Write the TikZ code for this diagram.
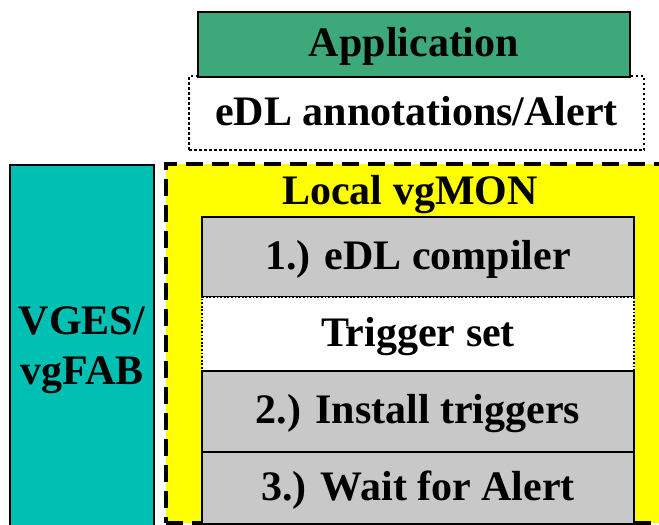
\documentclass[tikz,border=0pt]{standalone}
\usepackage{fontspec}
\setmainfont{Liberation Serif}
\definecolor{appgreen}{HTML}{3DA87A}
\definecolor{fabteal}{HTML}{00BFB3}
\definecolor{stepgrey}{HTML}{C8C8C8}
\definecolor{monyellow}{HTML}{FFFF00}
\begin{document}
\begin{tikzpicture}[x=1pt,y=-1pt,
  bigtext/.style={font=\fontsize{42}{50}\selectfont\bfseries},
  lbl/.style={bigtext, text height=33pt, text depth=9pt, inner sep=0pt},
  solidbox/.style={lbl, draw=black, line width=1.5pt},
  dotbox/.style={lbl, draw=black, line width=2.5pt, dash pattern=on 2.5pt off 2.5pt, fill=white},
  thindotbox/.style={lbl, draw=black, line width=1.6pt, dash pattern=on 1.8pt off 1.8pt, fill=white},
  greybox/.style={solidbox, fill=stepgrey, minimum width=432pt}
]
\useasboundingbox (0,0) rectangle (659,525);
\clip (0,0) rectangle (659,525);

% application layer
\node[dotbox, minimum width=455pt, minimum height=74pt] (annot) at (416.5,113) {eDL annotations/Alert};
\node[solidbox, fill=appgreen, minimum width=432pt, minimum height=65pt] (app) at (414,44.5) {Application};

% VGES / vgFAB column
\node[draw=black, line width=1.5pt, fill=fabteal, bigtext, align=center, inner sep=0pt,
      minimum width=144pt, minimum height=370pt] (vges) at (82,350) {VGES/\\vgFAB};

% local monitor frame
\node[draw=black, line width=4pt, dash pattern=on 17pt off 9pt, fill=monyellow,
      minimum width=554pt, minimum height=359pt, inner sep=0pt] (mon) at (443,343.5) {};
\node[bigtext, anchor=base, inner sep=0pt] (montitle) at (410,204) {Local vgMON};

% monitor steps
\node[greybox, minimum height=80pt] (compiler) at (418,257) {1.) eDL compiler};
\node[thindotbox, minimum width=432pt, minimum height=74pt] (trig) at (418,334) {Trigger set};
\node[greybox, minimum height=81pt] (install) at (418,411.5) {2.) Install triggers};
\node[greybox, minimum height=72pt] (wait) at (418,488) {3.) Wait for Alert};
\end{tikzpicture}
\end{document}
